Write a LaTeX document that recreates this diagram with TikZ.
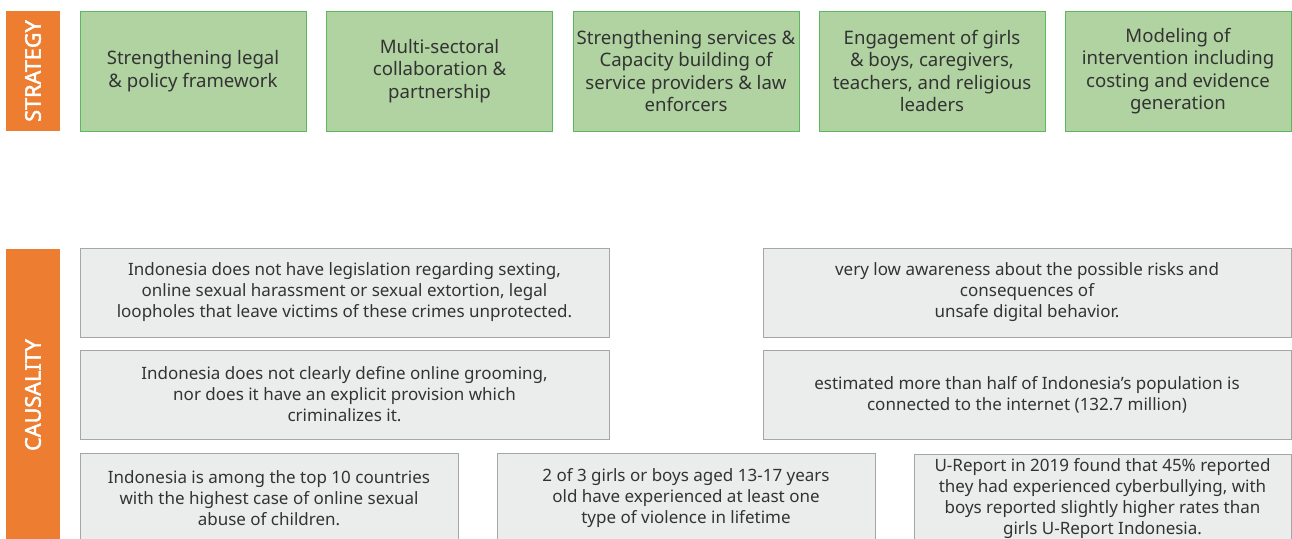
\documentclass[tikz,border=0pt]{standalone}
\usepackage{fontspec}
\setmainfont{Noto Sans}
\newfontfamily\bandfont{Noto Sans}[AutoFakeBold=2.2]
\definecolor{bandorange}{RGB}{237,125,49}
\definecolor{stratfill}{RGB}{176,211,161}
\definecolor{stratline}{RGB}{92,184,92}
\definecolor{causefill}{RGB}{235,237,237}
\definecolor{causeline}{RGB}{166,166,166}
\definecolor{bodytext}{RGB}{51,51,51}
\begin{document}
\begin{tikzpicture}[x=1pt,y=-1pt,
  band/.style={fill=bandorange, text=white, rotate=90, inner sep=0pt,
    font=\bandfont\fontsize{21.6}{24}\selectfont\bfseries, minimum height=54pt},
  stratbox/.style={fill=stratfill, draw=stratline, line width=1pt, inner sep=0pt,
    minimum width=226pt, minimum height=120pt, align=center, text=bodytext,
    font=\fontsize{18.6}{22.5}\selectfont},
  causebox/.style={fill=causefill, draw=causeline, line width=1pt, inner sep=0pt,
    minimum height=89pt, align=center, text=bodytext,
    font=\fontsize{17}{21}\selectfont},
]
\useasboundingbox (0,0) rectangle (1292,538);
\clip (0,0) rectangle (1292,538);
\fill[white] (0,0) rectangle (1292,538);

% side bands
\node[band, minimum width=120pt] (strategy) at (33,71) {STRATEGY};
\node[band, minimum width=292pt] (causality) at (33,395) {CAUSALITY};

% strategy row
\node[stratbox] (s1) at (193,71) {Strengthening legal\\\& policy framework};
\node[stratbox] (s2) at (439.5,71) {Multi-sectoral\\collaboration \&\\partnership};
\node[stratbox] (s3) at (686,71) {Strengthening services \&\\Capacity building of\\service providers \& law\\enforcers};
\node[stratbox] (s4) at (932,71) {Engagement of girls\\\& boys, caregivers,\\teachers, and religious\\leaders};
\node[stratbox] (s5) at (1178,71) {Modeling of\\intervention including\\costing and evidence\\generation};

% causality rows
\node[causebox, minimum width=529pt] (c1) at (344.5,292.5)
  {Indonesia does not have legislation regarding sexting,\\online sexual harassment or sexual extortion, legal\\loopholes that leave victims of these crimes unprotected.};
\node[causebox, minimum width=528pt] (c2) at (1027,292.5)
  {very low awareness about the possible risks and\\consequences of\\unsafe digital behavior.};
\node[causebox, minimum width=529pt] (c3) at (344.5,394.5)
  {Indonesia does not clearly define online grooming,\\nor does it have an explicit provision which\\criminalizes it.};
\node[causebox, minimum width=528pt] (c4) at (1027,394.5)
  {estimated more than half of Indonesia’s population is\\connected to the internet (132.7 million)};
\node[causebox, minimum width=378pt, minimum height=90pt] (c5) at (269,498)
  {Indonesia is among the top 10 countries\\with the highest case of online sexual\\abuse of children.};
\node[causebox, minimum width=378pt, minimum height=90pt] (c6) at (686,498)
  {2 of 3 girls or boys aged 13-17 years\\old have experienced at least one\\type of violence in lifetime};
\node[causebox, minimum width=377pt, minimum height=90pt] (c7) at (1102.5,499)
  {U-Report in 2019 found that 45\% reported\\they had experienced cyberbullying, with\\boys reported slightly higher rates than\\girls U-Report Indonesia.};
\end{tikzpicture}
\end{document}
